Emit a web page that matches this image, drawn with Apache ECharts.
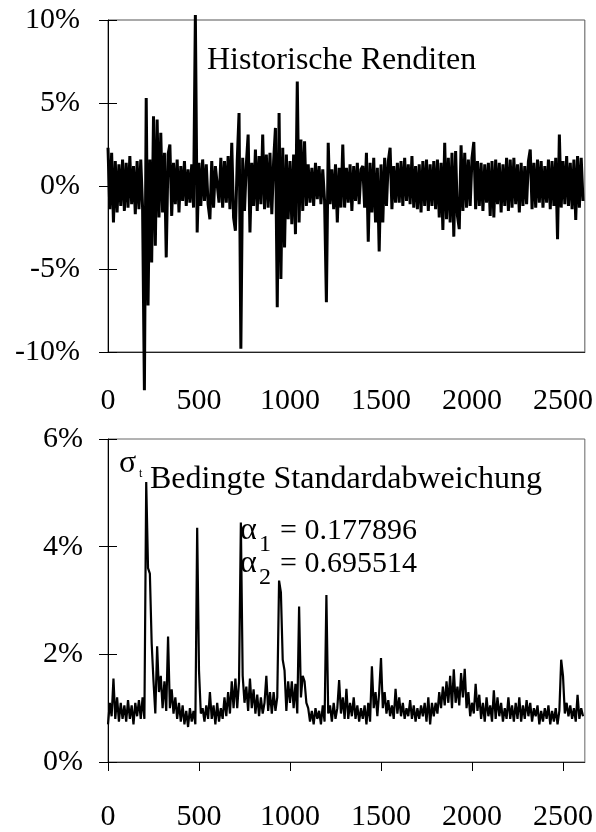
<!DOCTYPE html>
<html>
<head>
<meta charset="utf-8">
<script src="https://cdn.jsdelivr.net/npm/echarts@6/dist/echarts.min.js"></script>
<style>
html,body{margin:0;padding:0;background:#fff;}
#chart{width:596px;height:832px;}
</style>
</head>
<body>
<div id="chart"></div>
<script>
// ---- data ----
// x position of value i is i * STEP (trading day index)
const STEP = 10;
const xTicks = [0, 500, 1000, 1500, 2000, 2500];
const retTicks = [-10, -5, 0, 5, 10];
const sigTicks = [0, 2, 4, 6];

// Historische Renditen (%), one value every 10 days
const returns = [
  2.3, -1.4, 2.0, -2.2, 1.5, -1.6, 1.3, -1.2, 1.6, -1.5,
  1.4, -1.3, 1.8, -1.1, 1.2, -1.7, 1.5, -1.4, 1.6, -1.3,
  -12.3, 5.3, -7.2, 1.6, -4.6, 4.2, -3.6, 4.0, -1.9, 3.2,
  -1.6, 2.0, -4.3, 1.9, 2.5, -1.8, 1.4, -1.1, 1.6, -1.6,
  1.2, -0.9, 1.5, -1.2, 1.0, -1.0, 1.3, -1.3, 10.3, -2.8,
  1.4, -1.2, 1.6, -0.9, 1.3, -1.1, -2.0, 1.5, -1.3, 1.2,
  1.3, -1.0, 1.7, -1.3, 1.5, -1.0, 1.8, -1.4, 2.6, -1.9,
  -2.7, 1.5, 4.4, -9.8, 1.7, -1.5, 1.3, 3.1, -2.8, 1.4,
  -1.2, 2.2, -1.5, 1.8, -1.1, 3.1, -1.4, 1.9, -1.3, 2.0,
  -1.7, 1.5, 3.5, -7.3, 4.4, -5.6, 2.3, -3.7, 1.9, -2.0,
  1.5, -2.3, 1.9, -2.9, 6.3, -2.2, 2.8, -1.5, 2.7, -1.2,
  1.3, -1.0, 1.1, -1.2, 1.4, -0.8, 1.2, -1.1, 1.0, -0.9,
  -7.0, 2.6, -1.1, 1.0, -1.4, 1.3, -2.2, 1.1, -1.3, 2.5,
  -1.3, 1.1, -1.0, 1.3, -1.5, 1.2, -0.9, 1.4, -1.1, 1.0,
  1.2, -1.3, 2.0, -3.35, 1.4, -1.6, 1.7, -2.2, 1.1, -3.95,
  1.3, -2.2, 1.7, -1.2, 1.5, 2.3, -1.4, 1.2, -1.0, 1.4,
  -1.0, 1.5, -1.2, 1.7, -0.9, 1.3, -1.1, 1.8, -1.3, 1.2,
  -1.4, 1.3, -1.6, 1.5, -1.2, 1.6, -1.5, 1.3, -1.2, 1.5,
  -1.4, 1.6, -1.9, 1.4, -2.65, 2.6, -2.0, 1.7, -2.2, 2.0,
  -3.05, 2.1, -1.8, -2.6, 2.45, -1.5, 2.0, -1.3, 1.6, -1.2,
  1.7, 2.65, -1.4, 1.5, -1.2, 1.4, -1.5, 1.3, -1.0, 1.4,
  -1.8, 1.5, -1.9, 1.6, -1.1, 1.4, -1.6, 1.3, -1.2, 1.7,
  -1.5, 1.6, -1.3, 1.7, -1.1, 1.3, -1.6, 1.4, -1.2, 1.2,
  -1.1, 1.5, 2.2, -1.4, 1.4, -1.3, 1.6, -1.0, 1.5, -1.3,
  1.2, -1.0, 1.6, -1.4, 1.5, -1.2, 1.7, -3.2, 3.1, -1.3,
  1.5, -1.1, 1.8, -1.2, 1.4, -1.4, 1.6, -2.05, 1.8, -1.3,
  1.7, -0.9
];

// Bedingte Standardabweichung sigma_t (%), one value every 10 days
const sigma = [
  0.7, 1.1, 0.85, 1.55, 0.8, 1.2, 0.75, 1.1, 0.8, 1.05,
  0.75, 1.15, 0.8, 1.05, 0.7, 1.1, 0.85, 1.15, 0.8, 1.2,
  0.8, 5.2, 3.6, 3.5, 2.2, 1.5, 0.9, 2.15, 1.3, 1.6,
  1.0, 1.5, 0.95, 2.33, 1.0, 1.35, 0.9, 1.2, 0.8, 1.1,
  0.75, 1.05, 0.7, 0.95, 0.65, 1.0, 0.75, 0.95, 0.7, 4.35,
  1.7, 0.9, 1.0, 0.75, 1.05, 0.8, 1.3, 0.8, 1.05, 0.7,
  1.1, 0.75, 1.0, 0.8, 1.2, 0.85, 1.3, 0.9, 1.5, 1.0,
  1.55, 1.0, 1.5, 4.45, 1.6, 1.1, 1.4, 0.95, 1.55, 1.0,
  1.35, 0.9, 1.25, 0.85, 1.2, 0.9, 1.1, 1.6, 0.95, 1.3,
  0.9, 1.3, 0.95, 1.2, 3.37, 3.15, 1.9, 1.7, 0.95, 1.5,
  1.1, 1.5, 1.0, 1.45, 0.9, 2.89, 1.2, 1.6, 1.5, 1.1,
  1.0, 0.75, 0.95, 0.7, 1.0, 0.8, 0.95, 0.7, 1.05, 0.75,
  3.1, 0.9, 1.05, 0.75, 1.1, 0.8, 1.0, 1.52, 0.9, 1.2,
  0.8, 1.36, 0.8, 1.1, 0.85, 1.2, 0.8, 1.05, 0.75, 1.0,
  0.8, 1.05, 0.7, 1.1, 0.75, 1.78, 1.0, 1.3, 0.85, 1.3,
  1.93, 1.0, 1.3, 0.9, 1.15, 0.85, 1.05, 0.8, 1.36, 0.9,
  1.2, 0.85, 1.1, 0.8, 1.0, 0.85, 1.15, 0.8, 1.05, 0.75,
  1.0, 0.8, 1.05, 0.85, 1.1, 0.75, 1.2, 0.7, 1.1, 0.85,
  1.1, 0.9, 1.3, 1.0, 1.4, 1.05, 1.5, 1.1, 1.6, 1.0,
  1.72, 1.1, 1.4, 1.05, 1.65, 1.2, 1.73, 1.0, 1.3, 0.85,
  1.1, 0.9, 1.45, 0.95, 1.25, 0.8, 1.1, 0.75, 1.2, 0.85,
  1.05, 0.75, 1.33, 0.8, 1.2, 0.85, 1.1, 0.75, 1.0, 0.8,
  1.2, 0.8, 1.05, 0.75, 1.1, 0.8, 1.2, 0.75, 1.05, 0.8,
  1.15, 0.85, 1.1, 0.75, 1.0, 0.85, 1.05, 0.7, 0.95, 0.75,
  1.0, 0.8, 1.05, 0.7, 0.95, 0.75, 1.0, 0.7, 0.95, 1.9,
  1.6, 0.9, 1.1, 0.85, 1.05, 0.8, 1.0, 0.75, 1.25, 0.8,
  1.0, 0.85
];

const alpha1 = '0.177896';
const alpha2 = '0.695514';

// ---- chart ----
const FONT = "'Liberation Serif', 'Times New Roman', serif";
const X_MAX = 2620;

function pairs(arr) { return arr.map((v, i) => [i * STEP, v]); }

const chart = echarts.init(document.getElementById('chart'), null, {renderer: 'canvas'});

const labelStyle = {color: '#000', fontFamily: FONT, fontSize: 30};
const plain = v => String(v);

function xAxisBase(grid) {
  return {
    type: 'value', gridIndex: grid, min: 0, max: X_MAX,
    splitLine: {show: false},
    axisLine: {show: true, onZero: false, lineStyle: {color: '#222', width: 1}},
    axisTick: {show: false},
    axisLabel: {show: false}
  };
}

const option = {
  animation: false,
  backgroundColor: '#fff',
  grid: [
    {left: 108, top: 20, width: 478, height: 332, show: true, borderColor: '#555', borderWidth: 1, backgroundColor: 'transparent'},
    {left: 108, top: 439, width: 478, height: 333, show: true, borderColor: '#666', borderWidth: 1, backgroundColor: 'transparent'}
  ],
  xAxis: [
    Object.assign(xAxisBase(0), {
      axisLabel: Object.assign({show: true, margin: 34, customValues: xTicks, formatter: plain}, labelStyle)
    }),
    Object.assign(xAxisBase(1), {
      axisTick: {show: true, length: 9, customValues: xTicks, lineStyle: {color: '#000'}},
      axisLabel: Object.assign({show: true, margin: 40, customValues: xTicks, formatter: plain}, labelStyle)
    }),
    Object.assign(xAxisBase(1), {
      axisLine: {show: false},
      axisTick: {show: true, inside: true, length: 9, customValues: xTicks, lineStyle: {color: '#000'}}
    })
  ],
  yAxis: [
    {
      type: 'value', gridIndex: 0, min: -10, max: 10, interval: 5,
      splitLine: {show: false},
      axisLine: {show: true, onZero: false, lineStyle: {color: '#000'}},
      axisTick: {show: true, length: 9, lineStyle: {color: '#000'}},
      axisLabel: Object.assign({margin: 28, formatter: v => v + '%'}, labelStyle)
    },
    {
      type: 'value', gridIndex: 0, min: -10, max: 10, interval: 5, position: 'left',
      splitLine: {show: false}, axisLine: {show: false},
      axisTick: {show: true, inside: true, length: 9, lineStyle: {color: '#000'}},
      axisLabel: {show: false}
    },
    {
      type: 'value', gridIndex: 1, min: 0, max: 6, interval: 2,
      splitLine: {show: false},
      axisLine: {show: true, onZero: false, lineStyle: {color: '#000'}},
      axisTick: {show: true, length: 9, lineStyle: {color: '#000'}},
      axisLabel: Object.assign({margin: 25, formatter: v => v + '%'}, labelStyle)
    },
    {
      type: 'value', gridIndex: 1, min: 0, max: 6, interval: 2, position: 'left',
      splitLine: {show: false}, axisLine: {show: false},
      axisTick: {show: true, inside: true, length: 9, lineStyle: {color: '#000'}},
      axisLabel: {show: false}
    }
  ],
  series: [
    {
      name: 'Historische Renditen', type: 'line', xAxisIndex: 0, yAxisIndex: 0,
      data: pairs(returns), showSymbol: false, symbol: 'none', clip: false,
      lineStyle: {color: '#000', width: 3, join: 'miter', miterLimit: 2}
    },
    {
      name: 'Bedingte Standardabweichung', type: 'line', xAxisIndex: 1, yAxisIndex: 2,
      data: pairs(sigma), showSymbol: false, symbol: 'none', clip: false,
      lineStyle: {color: '#000', width: 2.2}
    }
  ],
  graphic: [
    {type: 'text', left: 207, top: 45, style: {text: 'Historische Renditen', font: "32px " + FONT, fill: '#000'}},
    {type: 'text', left: 119, top: 448, style: {text: 'σ', font: "32px " + FONT, fill: '#000'}},
    {type: 'text', left: 139, top: 468, style: {text: 't', font: "12px " + FONT, fill: '#000'}},
    {type: 'text', left: 150, top: 464, style: {text: 'Bedingte Standardabweichung', font: "32px " + FONT, fill: '#000'}},
    {type: 'text', left: 240, top: 515, style: {text: 'α', font: "32px " + FONT, fill: '#000'}},
    {type: 'text', left: 259, top: 533, style: {text: '1', font: "24px " + FONT, fill: '#000'}},
    {type: 'text', left: 280, top: 516, style: {text: '= ' + alpha1, font: "30px " + FONT, fill: '#000'}},
    {type: 'text', left: 240, top: 548, style: {text: 'α', font: "32px " + FONT, fill: '#000'}},
    {type: 'text', left: 259, top: 566, style: {text: '2', font: "24px " + FONT, fill: '#000'}},
    {type: 'text', left: 280, top: 549, style: {text: '= ' + alpha2, font: "30px " + FONT, fill: '#000'}}
  ]
};

chart.setOption(option);
</script>
</body>
</html>
